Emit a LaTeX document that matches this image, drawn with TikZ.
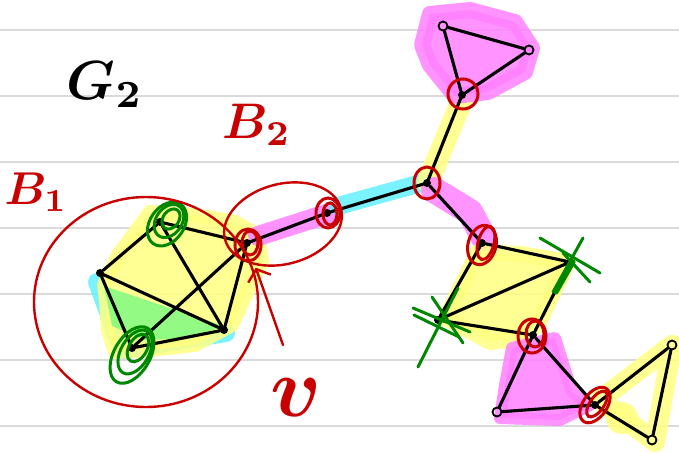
\documentclass[tikz,border=0pt]{standalone}
\usepackage{tikz}
\usepackage{bm}
\usetikzlibrary{arrows.meta}
\usetikzlibrary{backgrounds}
\definecolor{inkred}{RGB}{200,0,0}
\definecolor{inkgreen}{RGB}{0,135,0}
\definecolor{hlyellow}{RGB}{255,255,128}
\definecolor{hlpink}{RGB}{255,128,255}
\definecolor{hlcyan}{RGB}{100,240,255}
\definecolor{hlgreen}{RGB}{128,250,128}
\definecolor{ruled}{RGB}{218,218,218}
\tikzset{>={Straight Barb[length=10pt,width=24pt]}}
\tikzset{
  vert/.style={circle, fill=black, inner sep=0pt, minimum size=8pt},
  leaf/.style={circle, draw=black, line width=1.8pt, inner sep=0pt, minimum size=9pt},
  edge/.style={line width=3.1pt, line cap=round},
  cutring/.style={draw=inkred, line width=3pt},
  greenring/.style={draw=inkgreen, line width=3pt},
  greenstroke/.style={draw=inkgreen, line width=3pt, line cap=round},
  blockring/.style={draw=inkred, line width=2.4pt},
  hilite/.style={line width=#1, line cap=round, line join=round, opacity=0.85},
  hilite/.default=20pt,
}
\newcommand{\hand}[2]{\scalebox{#1}{$#2$}}

\begin{document}
\begin{tikzpicture}[x=1pt,y=-1pt]
\useasboundingbox (0,0) rectangle (679,452);
\begin{scope}
    %block B1
    \node[vert] (u1) at (160,222) {};
    \node[vert] (u2) at (100,273) {};
    \node[vert] (u3) at (132,348) {};
    \node[vert] (u4) at (224,330) {};
    \node[vert] (v) at (247,243) {};
    %the rest of the tree
    \node[vert] (w) at (327,213) {};
    \node[vert] (x) at (427,183) {};
    \node[vert] (y) at (462,95) {};
    \node[leaf] (t1) at (443,26) {};
    \node[leaf] (t2) at (529,50) {};
    \node[vert] (z) at (482,243) {};
    \node[vert] (g1) at (570,262) {};
    \node[vert] (g2) at (438,320) {};
    \node[vert] (m) at (533,335) {};
    \node[leaf] (p) at (497,412) {};
    \node[vert] (r) at (595,405) {};
    \node[leaf] (q1) at (672,345) {};
    \node[leaf] (q2) at (652,440) {};
    %edges
    \draw[edge] (u1) -- (u2) (u1) -- (v) (u1) -- (u4) (u2) -- (u4)
        (u2) -- (u3) (u3) -- (u4) (u3) -- (v) (u4) -- (v);
    \draw[edge] (v) -- (w) -- (x) -- (y) -- (t1) -- (t2) -- (y);
    \draw[edge] (x) -- (z) -- (g1) -- (m) -- (g2) -- (z) (g2) -- (g1);
    \draw[edge] (m) -- (p) -- (r) -- (m) (r) -- (q1) -- (q2) -- (r);
    %paper and highlighter
    \begin{pgfonlayer}{background}
    \foreach \yy in {30,96,162,228,294,360,426}
        \draw[ruled, line width=1.4pt] (0,\yy) -- (679,\yy);
    \draw[hilite=18pt, hlcyan] (97,282) -- (122,350) -- (226,333);
    \filldraw[hilite=14pt, hlyellow] (118,255) -- (150,212) -- (195,215) -- (235,222)
        -- (258,235) -- (262,262) -- (248,290) -- (232,325) -- (195,345) -- (150,350)
        -- (115,352) -- (108,330) -- (106,300) -- (104,285) -- cycle;
    \fill[hlgreen, opacity=0.85] (104,286) -- (224,326) -- (190,338) -- (145,340)
        -- (112,326) -- cycle;
    \draw[hilite=20pt, hlpink] (258,236) -- (330,213);
    \draw[hilite=18pt, hlcyan] (338,206) -- (425,182);
    \draw[hilite=22pt, hlyellow] (428,182) -- (462,100);
    \filldraw[hilite=16pt, hlpink] (430,14) -- (470,10) -- (515,22) -- (532,48)
        -- (525,72) -- (488,92) -- (455,96) -- (430,65) -- (422,45) -- cycle;
    \draw[hilite=26pt, hlpink] (434,190) -- (470,212) -- (484,238);
    \filldraw[hilite=16pt, hlyellow] (478,252) -- (520,254) -- (568,262) -- (540,320)
        -- (525,338) -- (490,342) -- (446,318) -- cycle;
    \filldraw[hilite=12pt, hlpink] (512,348) -- (555,338) -- (572,392) -- (590,405)
        -- (560,420) -- (500,418) -- (505,385) -- cycle;
    \draw[hilite=20pt, hlyellow] (600,400) -- (672,345) -- (655,442) -- cycle;
    \fill[hlyellow, opacity=0.85] (622,418) circle [radius=16];
    \end{pgfonlayer}
    %green marks
    \draw[greenring] (167,224) ellipse [x radius=17, y radius=24, rotate=-35];
    \draw[greenring] (169,221) ellipse [x radius=13, y radius=18, rotate=-35];
    \draw[greenring] (171,219) ellipse [x radius=8, y radius=11, rotate=-35];
    \draw[greenring] (132,355) ellipse [x radius=18, y radius=31, rotate=-30];
    \draw[greenring] (135,352) ellipse [x radius=14, y radius=24, rotate=-30];
    \draw[greenring] (138,348) ellipse [x radius=9, y radius=15, rotate=-30];
    \draw[greenstroke] (g1) ++(-30,-24) -- ++(60,35);
    \draw[greenstroke] (g1) ++(13,-24) -- ++(-30,54);
    \draw[greenstroke] (g1) ++(-7,-9) -- ++(27,29);
    \draw[greenstroke, line width=5pt] (g1) ++(3,0) -- ++(-17,30);
    \draw[greenstroke] (g2) ++(-25,-12) -- ++(57,24);
    \draw[greenstroke] (g2) ++(20,-32) -- ++(-40,79);
    \draw[greenstroke] (g2) ++(-6,-23) -- ++(31,46);
    \draw[greenstroke] (g2) ++(-24,-5) -- ++(45,22);
    %cut vertices
    \draw[cutring] (248,245) ellipse [x radius=13, y radius=16];
    \draw[cutring] (250,243) ellipse [x radius=8, y radius=12];
    \draw[cutring] (328,213) ellipse [x radius=12, y radius=15];
    \draw[cutring] (330,214) ellipse [x radius=7, y radius=11];
    \draw[cutring] (427,183) ellipse [x radius=13, y radius=16];
    \draw[cutring] (463,94) ellipse [x radius=15, y radius=15];
    \draw[cutring] (482,245) ellipse [x radius=14, y radius=20, rotate=-15];
    \draw[cutring] (486,243) ellipse [x radius=8, y radius=17, rotate=-15];
    \draw[cutring] (532,336) ellipse [x radius=14, y radius=17];
    \draw[cutring] (535,334) ellipse [x radius=9, y radius=13];
    \draw[cutring] (595,405) ellipse [x radius=12, y radius=20, rotate=-35];
    \draw[cutring] (597,404) ellipse [x radius=7, y radius=15, rotate=-35];
    %blocks
    \draw[blockring] (146,302) ellipse [x radius=112, y radius=105];
    \draw[blockring] (283,224) ellipse [x radius=60, y radius=40, rotate=15];
    %labels
    \node (G2) at (105,85) {\hand{5.5}{\bm{G_2}}};
    \node[text=inkred] (B1) at (36,192) {\hand{4.6}{\bm{B_1}}};
    \node[text=inkred] (B2) at (257,125) {\hand{5}{\bm{B_2}}};
    \node[text=inkred] (vlab) at (296,398) {\hand{8.5}{\bm{v}}};
    \coordinate (atail) at (283,345);
    \draw[->, inkred, line width=2.4pt, line cap=round, shorten >=22pt] (atail) -- (v);
\end{scope}
\end{tikzpicture}
\end{document}
